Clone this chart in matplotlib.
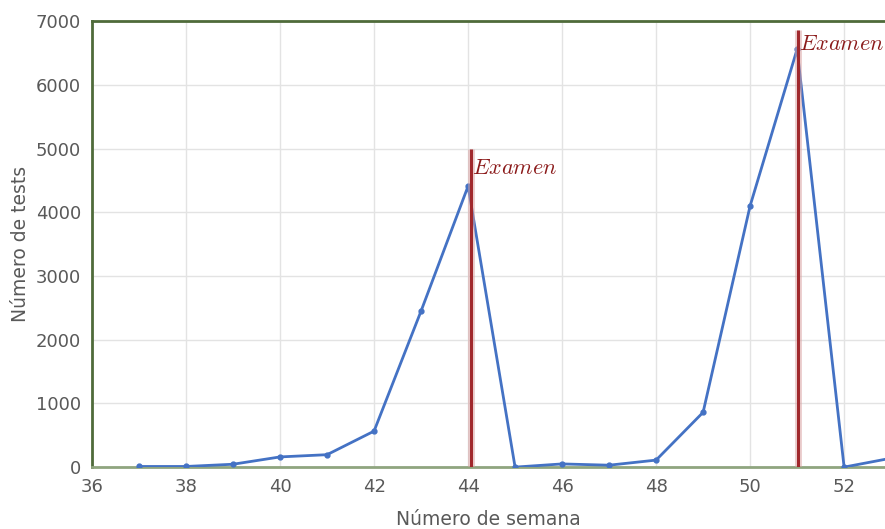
import matplotlib
matplotlib.use('Agg')
from matplotlib import pyplot as plt

weeks = [37, 38, 39, 40, 41, 42, 43, 44, 45, 46, 47, 48, 49, 50, 51, 52, 53]
tests = [10, 10, 45, 160, 195, 565, 2450, 4410, 0, 50, 30, 110, 860, 4100, 6560, 0, 140]

exam_weeks = [44.06, 51.02]
exam_tops = [5000, 6860]
exam_text_y = [4850, 6800]
exam_label = 'Examen'

plt.rcParams['mathtext.fontset'] = 'cm'

fig = plt.figure(figsize=(8.85, 5.29), dpi=100)
ax = fig.add_axes([0.104, 0.117, 0.896, 0.843])

ax.grid(True, color='#E3E3E3', linewidth=1)
ax.set_axisbelow(True)

ax.plot(weeks, tests, color='#4472C4', linewidth=2, marker='o', markersize=3.5, zorder=3)

for xw, top, ty in zip(exam_weeks, exam_tops, exam_text_y):
    ax.vlines(xw, 0, top, color='#D9A0A0', linewidth=5, alpha=0.5, zorder=4)
    ax.vlines(xw, 0, top, color='#A0282C', linewidth=2.2, zorder=4)
    ax.text(xw + 0.02, ty, f'${exam_label}$', color='#8B1A1A', fontsize=16,
            va='top', ha='left', zorder=5)

ax.set_xlim(36, 52.87)
ax.set_ylim(0, 7000)
ax.set_xticks(range(36, 53, 2))
ax.set_yticks(range(0, 7001, 1000))

for side in ['top', 'left']:
    ax.spines[side].set_color('#4F6B3A')
    ax.spines[side].set_linewidth(2)
ax.spines['bottom'].set_color('#8FA57F')
ax.spines['bottom'].set_linewidth(2)
ax.spines['right'].set_visible(False)

ax.tick_params(length=0, labelsize=13, labelcolor='#595959', pad=8)
ax.set_xlabel('Número de semana', fontsize=13.5, color='#595959', labelpad=10)
ax.set_ylabel('Número de tests', fontsize=13.5, color='#595959', labelpad=4)

fig.savefig('out.png')
